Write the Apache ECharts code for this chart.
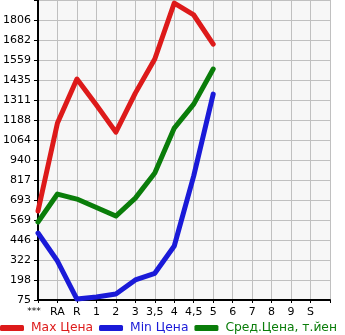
<!DOCTYPE html>
<html><head><meta charset="utf-8">
<script src="https://cdn.jsdelivr.net/npm/echarts@6/dist/echarts.min.js"></script>
<style>html,body{margin:0;padding:0;background:#fff}#c{width:345px;height:335px}</style>
</head><body><div id="c"></div>
<script>
const categories = ['***','RA','R','1','2','3','3,5','4','4,5','5','6','7','8','9','S',''];
const maxPrice = [625,1169,1441,1280,1113,1354,1565,1911,1837,1657];
const minPrice = [489,316,81,94,112,199,240,409,842,1348];
const avgPrice = [557,730,699,647,594,705,860,1138,1286,1503];
const yTicks = [75,198,322,446,569,693,817,940,1064,1188,1311,1435,1559,1682,1806];
const seriesNames = ['Max Цена','Min Цена','Сред.Цена, т.йен'];
const colors = ['#dd1a1a','#1a1ad8','#0a7d0a'];

const yStep = (yTicks[yTicks.length-1]-yTicks[0])/(yTicks.length-1);
const chart = echarts.init(document.getElementById('c'));
const font = 'DejaVu Sans';
chart.setOption({
  animation:false,
  grid:{left:31,right:15,top:0,bottom:35,show:true,backgroundColor:'#f7f7f7',borderWidth:0},
  xAxis:{type:'category',data:categories,boundaryGap:false,
    axisLine:{lineStyle:{color:'#000',width:2}},
    axisTick:{show:true,length:3,lineStyle:{color:'#000'}},
    axisLabel:{color:'#000',fontSize:11,fontFamily:font,margin:7,interval:0,
      formatter:(v,i)=> i===0 ? '{s|'+v+'}' : v,
      rich:{s:{fontSize:9,fontFamily:font,color:'#000',padding:[0,8,0,0]}}},
    splitLine:{show:true,lineStyle:{color:'#c0c0c0',width:1}}},
  yAxis:{type:'value',min:yTicks[0],max:yTicks[0]+yStep*yTicks.length,interval:yStep,
    axisLine:{show:true,lineStyle:{color:'#000',width:2}},
    axisTick:{show:true,length:4,lineStyle:{color:'#000'}},
    axisLabel:{color:'#000',fontSize:11,fontFamily:font,margin:7,
      formatter:(v,i)=> (i<yTicks.length? String(yTicks[i]) : '')},
    splitLine:{show:true,lineStyle:{color:'#c0c0c0',width:1}}},
  legend:{bottom:1,left:0,width:700,padding:0,itemGap:6,itemWidth:24,itemHeight:6,icon:'roundRect',
    textStyle:{fontSize:12.3,fontFamily:font,padding:[0,0,0,2]},
    data:seriesNames.map((n,i)=>({name:n,textStyle:{color:colors[i]}}))},
  series:[maxPrice,minPrice,avgPrice].map((d,i)=>({
    name:seriesNames[i],type:'line',data:d,symbol:'none',
    lineStyle:{color:colors[i],width:5,cap:'round',join:'round'},
    itemStyle:{color:colors[i]}}))
});
</script></body></html>
